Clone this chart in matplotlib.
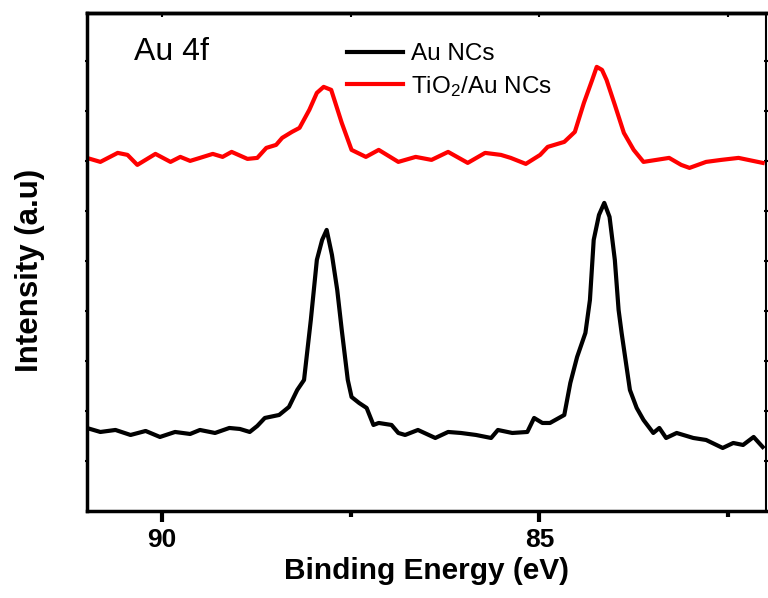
# XPS Au 4f 谱图：Au NCs 与 TiO2/Au NCs 对比
import matplotlib
matplotlib.use('Agg')
import matplotlib.pyplot as plt
import numpy as np

plt.rcParams['font.family'] = ['Liberation Sans', 'DejaVu Sans']
plt.rcParams['mathtext.default'] = 'regular'

# 结合能 (eV) 与强度 (a.u.)
energy_au = [91.0, 90.82, 90.62, 90.42, 90.22, 90.03, 89.83, 89.63, 89.50, 89.30,
             89.11, 88.97, 88.84, 88.74, 88.64, 88.45, 88.32, 88.21, 88.12, 88.03,
             87.95, 87.88, 87.82, 87.75, 87.68, 87.62, 87.54, 87.49, 87.39, 87.29,
             87.20, 87.13, 86.96, 86.87, 86.78, 86.61, 86.38, 86.21, 86.04, 85.84,
             85.64, 85.55, 85.36, 85.16, 85.07, 84.96, 84.86, 84.67, 84.59, 84.50,
             84.39, 84.33, 84.28, 84.21, 84.14, 84.07, 84.00, 83.95, 83.91, 83.80,
             83.71, 83.62, 83.49, 83.41, 83.32, 83.18, 82.96, 82.79, 82.57, 82.43,
             82.30, 82.16, 82.04]
intensity_au = [1.66, 1.58, 1.62, 1.52, 1.60, 1.48, 1.58, 1.54, 1.62, 1.56,
                1.66, 1.64, 1.58, 1.70, 1.86, 1.92, 2.08, 2.42, 2.62, 3.82,
                5.02, 5.42, 5.62, 5.12, 4.42, 3.62, 2.62, 2.28, 2.16, 2.06,
                1.72, 1.76, 1.72, 1.56, 1.52, 1.62, 1.46, 1.58, 1.56, 1.52,
                1.46, 1.62, 1.56, 1.58, 1.86, 1.76, 1.76, 1.92, 2.56, 3.08,
                3.56, 4.22, 5.42, 5.92, 6.16, 5.88, 5.02, 4.02, 3.56, 2.42,
                2.06, 1.82, 1.56, 1.66, 1.46, 1.56, 1.46, 1.42, 1.26, 1.36,
                1.32, 1.48, 1.28]

energy_tio2 = [91.0, 90.82, 90.59, 90.46, 90.33, 90.09, 89.89, 89.76, 89.63, 89.50,
               89.33, 89.20, 89.08, 88.87, 88.74, 88.62, 88.49, 88.41, 88.28, 88.18,
               88.05, 87.95, 87.86, 87.76, 87.62, 87.49, 87.30, 87.13, 86.87, 86.64,
               86.43, 86.21, 85.95, 85.72, 85.51, 85.38, 85.18, 84.99, 84.89, 84.67,
               84.53, 84.41, 84.30, 84.24, 84.17, 84.11, 84.00, 83.88, 83.75, 83.62,
               83.45, 83.28, 83.12, 83.01, 82.79, 82.59, 82.36, 82.04]
intensity_tio2 = [7.06, 6.98, 7.16, 7.12, 6.92, 7.14, 6.98, 7.08, 7.00, 7.06,
                  7.14, 7.08, 7.18, 7.04, 7.06, 7.26, 7.32, 7.46, 7.58, 7.66,
                  8.02, 8.36, 8.48, 8.42, 7.76, 7.22, 7.08, 7.22, 6.98, 7.08,
                  7.02, 7.18, 6.96, 7.16, 7.12, 7.06, 6.94, 7.12, 7.28, 7.38,
                  7.58, 8.16, 8.62, 8.88, 8.82, 8.62, 8.12, 7.56, 7.22, 6.98,
                  7.02, 7.06, 6.92, 6.86, 6.98, 7.02, 7.06, 6.96]

fig = plt.figure(figsize=(7.68, 5.98), dpi=100)
ax = fig.add_axes([0.113, 0.1455, 0.884, 0.833])

ax.plot(energy_au, intensity_au, color='black', lw=3, label='Au NCs')
ax.plot(energy_tio2, intensity_tio2, color='#ff0000', lw=3, label='TiO$_2$/Au NCs')

# 横轴反向
ax.set_xlim(91, 82)
ax.set_ylim(0, 9.96)

ax.set_xticks([90, 85])
ax.set_xticks([87.5, 82.5], minor=True)
ax.set_yticks(np.arange(1, 10, 1))
ax.set_yticklabels([])
ax.tick_params(axis='x', which='major', direction='out', length=8, width=3,
               labelsize=19, pad=4)
ax.tick_params(axis='x', which='minor', direction='out', length=4, width=3)
ax.tick_params(axis='y', direction='inout', length=3, width=1.5, right=True)
for lab in ax.get_xticklabels():
    lab.set_fontweight('bold')

# 顶部小刻度（朝内）
top = ax.secondary_xaxis('top')
top.set_xticks([90, 87.5, 85, 82.5])
top.set_xticklabels([])
top.tick_params(direction='in', length=3, width=1.5)
top.spines['top'].set_linewidth(2.5)

for side in ['left', 'bottom', 'top']:
    ax.spines[side].set_linewidth(2.5)
ax.spines['right'].set_linewidth(1.5)

ax.set_xlabel('Binding Energy (eV)', fontsize=21.5, fontweight='bold', labelpad=4)
ax.set_ylabel('Intensity (a.u)', fontsize=22.5, fontweight='bold')
ax.yaxis.set_label_coords(-0.062, 0.482)

ax.text(0.07, 0.922, 'Au 4f', transform=ax.transAxes, fontsize=23,
        ha='left', va='center')

ax.legend(loc='upper left', bbox_to_anchor=(0.384, 0.939), frameon=False,
          fontsize=17.5, handlelength=2.3, handletextpad=0.3, labelspacing=0.35,
          borderpad=0, borderaxespad=0)

fig.savefig('out.png', dpi=100)
